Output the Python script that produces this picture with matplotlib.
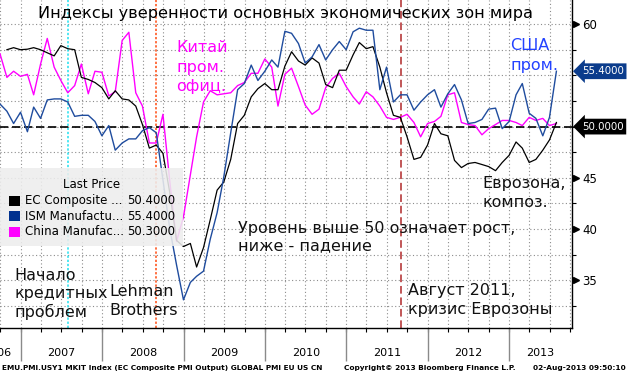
import matplotlib
matplotlib.use("Agg")
import matplotlib.pyplot as plt
import matplotlib.transforms as mtransforms
from matplotlib.patches import Rectangle
import numpy as np
import pandas as pd

# ISM Manufacturing PMI, monthly, Sep 2006 .. Jul 2013
ism = [
    52.2, 51.5, 50.3, 51.4,
    49.5, 51.9, 50.8, 52.6, 52.7, 52.7, 52.4, 51.0, 51.1, 51.1, 50.5, 49.1,
    50.1, 47.7, 48.4, 48.8, 48.8, 49.6, 49.9, 49.4, 44.8, 40.0, 36.5, 33.1,
    34.8, 35.4, 35.9, 39.0, 41.6, 45.1, 49.4, 53.6, 54.2, 56.0, 54.5, 55.4,
    56.5, 55.8, 59.3, 59.1, 58.1, 56.2, 56.8, 58.0, 56.5, 57.5, 58.3, 57.5,
    59.25, 59.6, 59.4, 59.4, 53.6, 55.8, 52.4, 53.1, 53.1, 51.6, 52.4, 53.1,
    53.6, 51.9, 53.2, 54.1, 52.6, 50.3, 50.4, 50.7, 51.7, 51.8, 49.8, 50.5,
    53.1, 54.2, 51.3, 50.8, 49.1, 50.9, 55.4,
]
# China manufacturing PMI (official), monthly, Sep 2006 .. Jul 2013
china = [
    57.1, 54.8, 55.4, 54.9,
    55.1, 53.1, 56.1, 58.6, 55.8, 54.5, 53.3, 54.0, 56.1, 53.2, 55.4, 55.3,
    53.0, 53.4, 58.4, 59.2, 53.3, 52.0, 48.4, 48.4, 51.2, 44.6, 38.8, 41.2,
    45.3, 49.0, 52.4, 53.5, 53.1, 53.2, 53.3, 54.0, 54.3, 55.2, 55.2, 56.6,
    55.8, 52.0, 55.1, 55.7, 53.9, 52.1, 51.2, 51.7, 53.8, 54.7, 55.2, 53.9,
    52.9, 52.2, 53.4, 52.9, 52.0, 50.9, 50.7, 50.9, 51.2, 50.4, 49.0, 50.3,
    50.5, 51.0, 53.1, 53.3, 50.4, 50.2, 50.1, 49.2, 49.8, 50.2, 50.6, 50.6,
    50.4, 50.1, 50.9, 50.6, 50.8, 50.1, 50.3,
]
# EC Composite PMI output, monthly, Oct 2006 .. Jul 2013
ec = [
    57.5, 57.7, 57.5,
    57.55, 57.7, 57.5, 57.2, 56.9, 57.9, 57.6, 57.5, 54.8, 54.6, 54.3, 53.8,
    52.7, 53.5, 52.7, 52.6, 52.0, 50.2, 47.9, 48.2, 47.4, 43.5, 38.9, 38.3,
    38.6, 36.3, 38.2, 40.9, 43.8, 44.6, 46.8, 50.3, 51.1, 52.9, 53.7, 54.2,
    53.6, 53.6, 55.9, 57.3, 56.4, 56.0, 56.7, 56.2, 54.1, 53.8, 55.5, 55.5,
    57.0, 58.2, 57.6, 57.8, 55.8, 53.3, 51.1, 50.9, 49.0, 46.8, 47.0, 48.2,
    50.3, 49.3, 49.1, 46.7, 46.0, 46.4, 46.5, 46.3, 46.1, 45.7, 46.5, 47.2,
    48.5, 47.9, 46.5, 46.8, 47.7, 48.7, 50.4,
]

ism_dates = pd.date_range("2006-09-30", periods=len(ism), freq="ME")
china_dates = pd.date_range("2006-09-30", periods=len(china), freq="ME")
ec_dates = pd.date_range("2006-10-31", periods=len(ec), freq="ME")

series_names = ["EC Composite ...", "ISM Manufactu...", "China Manufac..."]
years = [2006, 2007, 2008, 2009, 2010, 2011, 2012, 2013]
event_dates = ["2007-08-01", "2008-09-01", "2011-09-01"]
labelled_ticks = [35, 40, 45, 60]
baseline = 50.0

C_EC = "#000000"
C_ISM = "#1f4c9e"
C_CN = "#ff00ff"

W, H = 629, 377
fig = plt.figure(figsize=(W / 100, H / 100), dpi=100)
ax = fig.add_axes([0, 49.5 / H, 572 / W, 327.5 / H])
plt.rcParams["font.family"] = ["DejaVu Sans"]

x_left = pd.Timestamp("2006-09-30")
x_right = pd.Timestamp("2013-10-09")


def apx(x, y):
    """pixel position inside the plot box -> axes fraction"""
    return x / 572, 1 - y / 327.5


# grid
quarters = pd.date_range("2006-10-01", "2013-10-01", freq="QS")
ax.set_xticks(quarters)
ax.set_xticklabels([])
ax.set_yticks(np.arange(32.5, 62.5, 2.5))
ax.grid(True, ls=(0, (1, 2.2)), color="#8c8c8c", lw=0.8)
ax.set_axisbelow(True)

# event lines
ax.axvline(pd.Timestamp(event_dates[0]), color="#22e0f0", lw=1.1, ls=(0, (1.5, 1.2)), zorder=2)
ax.axvline(pd.Timestamp(event_dates[1]), color="#ff4a10", lw=1.1, ls=(0, (1.5, 1.2)), zorder=2)
ax.axvline(pd.Timestamp(event_dates[2]), color="#b0282a", lw=1.1, ls=(0, (5, 2.5)), zorder=2)
ax.axhline(baseline, color="black", lw=1.2, ls=(0, (5, 2.2)), zorder=2)

ax.plot(china_dates, china, color=C_CN, lw=1.0, zorder=3)
ax.plot(ec_dates, ec, color=C_EC, lw=0.9, zorder=4)
ax.plot(ism_dates, ism, color=C_ISM, lw=1.0, zorder=4)

ax.set_xlim(x_left, x_right)
ax.set_ylim(30.4, 62.35)

for s in ["top", "left"]:
    ax.spines[s].set_visible(False)
ax.spines["right"].set_linewidth(1.0)
ax.spines["bottom"].set_linewidth(1.0)

ax.yaxis.tick_right()
ax.set_yticklabels([f"{v:g}" if v in labelled_ticks else "" for v in ax.get_yticks()])
ax.tick_params(axis="y", direction="out", length=3, width=0.8, labelsize=8.5, pad=4.5)
ax.tick_params(axis="x", direction="out", length=3, width=0.8)

ytf = mtransforms.blended_transform_factory(ax.transAxes, ax.transData)
xtf = mtransforms.blended_transform_factory(ax.transData, ax.transAxes)
ax.plot([1.0065] * len(labelled_ticks), labelled_ticks, ls="none", marker=">", ms=5,
        color="black", transform=ytf, clip_on=False)

# last value boxes on the right axis
ax.text(1.017, ism[-1], f"{ism[-1]:.4f}", transform=ytf, ha="left", va="center",
        color="white", fontsize=7.4,
        bbox=dict(boxstyle="larrow,pad=0.28", fc="#0b3c8c", ec="none"), zorder=10, clip_on=False)
ax.text(1.017, baseline, f"{baseline:.4f}", transform=ytf, ha="left", va="center",
        color="white", fontsize=7.4,
        bbox=dict(boxstyle="larrow,pad=0.28", fc="black", ec="none"), zorder=10, clip_on=False)

# year separators and labels (the 2006 label is cut by the left edge, as in the source)
year_starts = [pd.Timestamp(f"{y}-01-01") for y in years[1:]]
ax.vlines(year_starts, -33 / 327.5, 0, transform=xtf, color="#8a8a8a", lw=1.0, clip_on=False)
for y in years:
    lo = max(pd.Timestamp(f"{y}-01-01"), pd.Timestamp("2006-06-01"))
    hi = min(pd.Timestamp(f"{y + 1}-01-01"), x_right)
    mid = lo + (hi - lo) / 2
    ax.text(mid, -25.5 / 327.5, str(y), transform=xtf, ha="center", va="center",
            fontsize=8, clip_on=False)

# title and notes
note = dict(transform=ax.transAxes, ha="left", va="top", fontsize=11.5)
ax.text(*apx(286, 6), "Индексы уверенности основных экономических зон мира",
        transform=ax.transAxes, ha="center", va="top", fontsize=11.6)
ax.text(*apx(176.5, 40.5), "Китай\nпром.\nофиц.", color="#ff00ff", linespacing=1.35, **note)
ax.text(*apx(510, 38.5), "США\nпром.", color="#2342ff", linespacing=1.35, **note)
ax.text(*apx(482.5, 176), "Еврозона,\nкомпоз.", color="#111111", linespacing=1.3, **note)
ax.text(*apx(238, 221), "Уровень выше 50 означает рост,\nниже - падение", color="#111111",
        linespacing=1.17, **note)
ax.text(*apx(14, 268.5), "Начало\nкредитных\nпроблем", color="#111111", linespacing=1.23, **note)
ax.text(*apx(109.5, 284.5), "Lehman\nBrothers", color="#111111", linespacing=1.3, **note)
ax.text(*apx(408, 283), "Август 2011,\nкризис Еврозоны", color="#111111", linespacing=1.35, **note)

# legend box
lx, ly = apx(0, 246)
lw_, lh_ = 183 / 572, 78 / 327.5
ax.add_patch(Rectangle((lx, ly), lw_, lh_, transform=ax.transAxes, fc="#ededed",
                       ec="none", alpha=0.88, zorder=6))
ax.text(*apx(92, 184), "Last Price", transform=ax.transAxes, ha="center", va="center",
        fontsize=8.5, zorder=7)
last_vals = [ec[-1], ism[-1], china[-1]]
for i, (name, col, val) in enumerate(zip(series_names, [C_EC, "#00318f", C_CN], last_vals)):
    yc = 200.5 + i * 15.5
    sx, sy = apx(9, yc + 5)
    ax.add_patch(Rectangle((sx, sy), 10.5 / 572, 10 / 327.5, transform=ax.transAxes,
                           fc=col, ec="none", zorder=7))
    ax.text(*apx(25, yc), name, transform=ax.transAxes, ha="left", va="center",
            fontsize=8.5, zorder=7)
    ax.text(*apx(175.5, yc), f"{val:.4f}", transform=ax.transAxes, ha="right",
            va="center", fontsize=8.5, zorder=7)

# footer
fig.text(2 / W, 9 / H, "EMU.PMI.USY1 MKIT Index (EC Composite PMI Output) GLOBAL PMI EU US CN",
         fontsize=5.3, va="center", ha="left", fontweight="bold")
fig.text(344 / W, 9 / H, "Copyright© 2013 Bloomberg Finance L.P.",
         fontsize=5.3, va="center", ha="left", fontweight="bold")
fig.text(626 / W, 9 / H, "02-Aug-2013 09:50:10",
         fontsize=5.3, va="center", ha="right", fontweight="bold")

fig.savefig("out.png", dpi=100)
